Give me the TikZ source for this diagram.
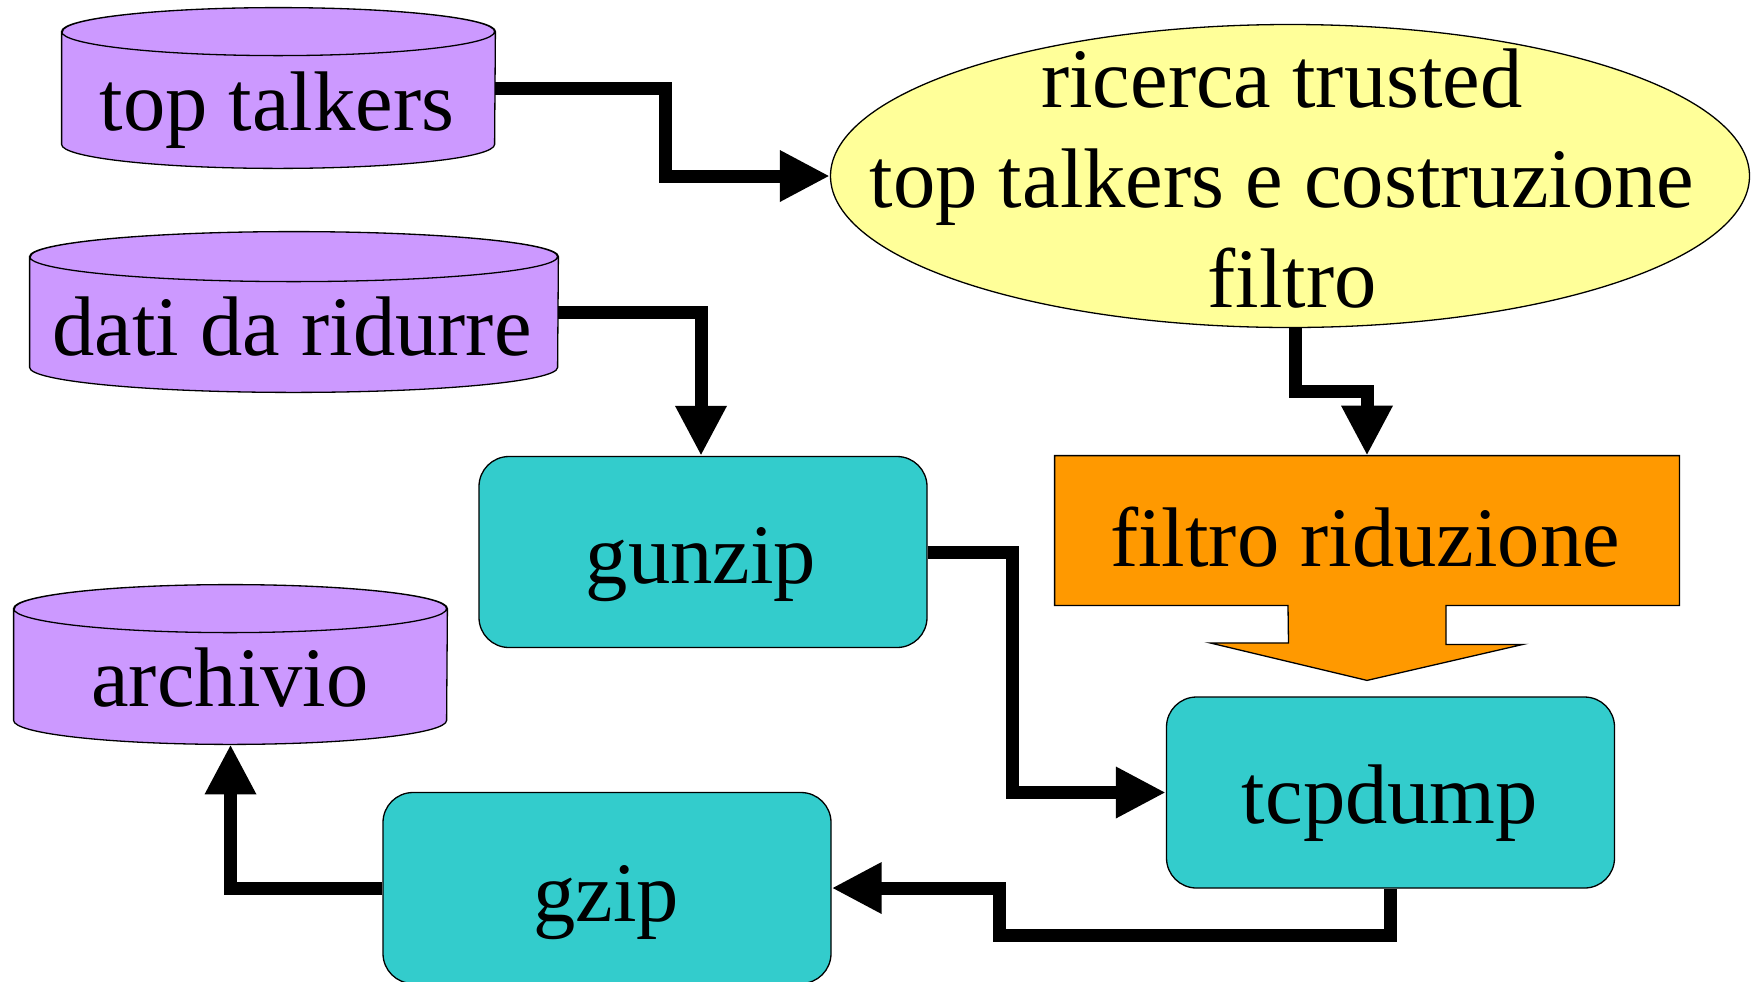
\documentclass[tikz,border=0pt]{standalone}
\usepackage{fontspec}
\setmainfont{Liberation Serif}
\usetikzlibrary{arrows.meta,shapes.geometric}

\definecolor{drumviolet}{HTML}{CC99FF}
\definecolor{ideayellow}{HTML}{FFFF99}
\definecolor{filterorange}{HTML}{FF9900}
\definecolor{procteal}{HTML}{33CCCC}

% Outline of a database drum drawn over an (invisible) rectangular node.
% #1 node name, #2 half width, #3 vertical radius of the end faces
\newcommand\drumbody[3]{%
  \path[drumpath]
    ([yshift=-#3]#1.north west) -- ([yshift=#3]#1.south west)
    arc[start angle=180, end angle=360, x radius=#2, y radius=#3]
    -- ([yshift=-#3]#1.north east)
    arc[start angle=0, end angle=180, x radius=#2, y radius=#3] -- cycle
    ([yshift=-#3]#1.north west)
    arc[start angle=180, end angle=540, x radius=#2, y radius=#3];
}

\tikzset{
  x=0.5pt, y=0.5pt,
  thin outline/.style={draw=black, line width=0.65pt},
  drumframe/.style={shape=rectangle, inner sep=0pt, draw=none},
  drumpath/.style={thin outline, fill=drumviolet},
  procbox/.style={shape=rectangle, rounded corners=15pt, thin outline,
    fill=procteal, inner sep=0pt, minimum width=224pt, minimum height=95.5pt},
  lbl/.style={font=\fontsize{42.3}{50}\selectfont, inner sep=0pt},
  conn/.style={line width=6.5pt, -{Triangle[length=25pt, width=24pt]}},
}

\begin{document}
\begin{tikzpicture}
\useasboundingbox (0,0) rectangle (1751,-981);

% data stores
\node[drumframe, minimum width=216.5pt, minimum height=80pt] (tt) at (278.5,-88) {};
\drumbody{tt}{108.25pt}{12pt}
\node[lbl, anchor=base] (ttl) at (277,-130) {top talkers};

\node[drumframe, minimum width=264pt, minimum height=80pt] (dr) at (294,-312) {};
\drumbody{dr}{132pt}{12.5pt}
\node[lbl, anchor=base] (drl) at (292,-355) {dati da ridurre};

\node[drumframe, minimum width=216.5pt, minimum height=79.5pt] (ar) at (230.5,-664.5) {};
\drumbody{ar}{108.25pt}{12pt}
\node[lbl, anchor=base] (arl) at (230,-706) {archivio};

% analysis step
\node[ellipse, thin outline, fill=ideayellow, inner sep=0pt,
      minimum width=459.5pt, minimum height=151.5pt] (ell) at (1290,-176) {};
\node[lbl, align=center] (elll) at (1282,-179)
  {ricerca trusted\\top talkers e costruzione\\\hspace*{10pt}filtro};

% reduction filter with its block arrow
\node[shape=rectangle, inner sep=0pt, draw=none,
      minimum width=312pt, minimum height=74.5pt] (flt) at (1367,-530.5) {};
\path[thin outline, fill=filterorange]
  (flt.north west) -- (flt.north east) -- (flt.south east)
  -- ([xshift=39.5pt]flt.south) -- ++(0,-39) -- ++(77,0)
  -- ([yshift=-37.5pt]flt.south) -- ++(-157,37.5)
  -- ++(78.5,0) -- ([xshift=-39.5pt]flt.south)
  -- (flt.south west) -- cycle;
\node[lbl, anchor=base] (fltl) at (1365,-566) {filtro riduzione};

% processing steps
\node[procbox] (gunzip) at (703,-552) {};
\node[lbl, anchor=base] at (701,-583) {gunzip};
\node[procbox] (tcpdump) at (1390.5,-792.5) {};
\node[lbl, anchor=base] at (1390,-823) {tcpdump};
\node[procbox] (gzip) at (607,-888) {};
\node[lbl, anchor=base] at (606,-921) {gzip};

% connectors
\coordinate (k1) at (665,-176);
\draw[conn] (tt.east) -| (k1) -- (ell.west);

\draw[conn] (dr.east) -| ([xshift=-1pt]gunzip.north);

\coordinate (k3) at (1330,-391);
\draw[conn] ([xshift=2.5pt]ell.south) |- (k3) -| (flt.north);

\coordinate (k4) at (1012,-700);
\draw[conn] (gunzip.east) -| (k4) |- (tcpdump.west);

\coordinate (k5) at (999,-935);
\draw[conn] (tcpdump.south) |- (k5) |- (gzip.east);

\draw[conn] (gzip.west) -| (ar.south);
\end{tikzpicture}
\end{document}
